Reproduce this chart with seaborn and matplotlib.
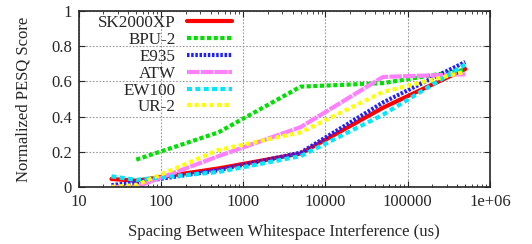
import numpy as np
import pandas as pd
import seaborn as sns
import matplotlib
matplotlib.use("Agg")
import matplotlib.pyplot as plt
from matplotlib.ticker import LogLocator, NullFormatter, FixedLocator

# spacing values (us)
spacing = [25, 50, 500, 5000, 50000, 500000]

# normalized PESQ scores
sk2000xp = [0.045, 0.035, 0.105, 0.19, 0.45, 0.67]
bpu2 = [None, 0.155, 0.31, 0.57, 0.59, 0.665]
e935 = [0.01, 0.025, 0.095, 0.195, 0.48, 0.71]
atw = [0.0, 0.0, 0.175, 0.34, 0.625, 0.64]
ew100 = [0.06, 0.04, 0.085, 0.175, 0.41, 0.695]
ur2 = [0.0, 0.01, 0.21, 0.31, 0.54, 0.655]

names = ["SK2000XP", "BPU-2", "E935", "ATW", "EW100", "UR-2"]
series = [sk2000xp, bpu2, e935, atw, ew100, ur2]
colors = ["#ff0000", "#00e000", "#2020ff", "#ff80ff", "#00e8ff", "#ffff00"]
dashes = [(None, None), (1, 0.6), (0.6, 0.4), (3, 0.3), (1.2, 0.8), (1, 0.8)]

rows = []
for n, vals in zip(names, series):
    for x, v in zip(spacing, vals):
        if v is not None:
            rows.append({"spacing": x, "score": v, "device": n})
df = pd.DataFrame(rows)

sns.set_style("ticks")
plt.rcParams["font.family"] = ["Liberation Serif", "DejaVu Serif"]

fig = plt.figure(figsize=(5.32, 2.44), dpi=100)
ax = fig.add_axes([0.148, 0.234, 0.773, 0.721])

for n, c, d in zip(names, colors, dashes):
    sub = df[df.device == n]
    sns.lineplot(data=sub, x="spacing", y="score", ax=ax, color=c,
                 linewidth=3, label=n)
    ln = ax.lines[-1]
    if d[0] is not None:
        ln.set_dashes(d)

ax.set_xscale("log")
ax.set_xlim(10, 1e6)
ax.set_ylim(0, 1)
ax.xaxis.set_major_locator(FixedLocator([10, 100, 1000, 10000, 100000, 1e6]))
ax.set_xticklabels(["10", "100", "1000", "10000", "100000", "1e+06"])
ax.xaxis.set_minor_locator(LogLocator(base=10, subs=np.arange(2, 10)))
ax.xaxis.set_minor_formatter(NullFormatter())
ax.set_yticks([0, 0.2, 0.4, 0.6, 0.8, 1])
ax.set_yticklabels(["0", "0.2", "0.4", "0.6", "0.8", "1"])
ax.tick_params(which="both", direction="in", top=True, right=True, labelsize=12)
ax.tick_params(which="major", length=4, pad=5)
ax.tick_params(which="minor", length=2)
ax.grid(True, which="major", color="#999999", linestyle=(0, (1.5, 1.5)), linewidth=0.8)
for s in ax.spines.values():
    s.set_linewidth(1.2)

ax.set_xlabel("Spacing Between Whitespace Interference (us)", fontsize=12, labelpad=10)
ax.set_ylabel("Normalized PESQ Score", fontsize=12, labelpad=14)

leg = ax.legend(loc="upper left", frameon=False, markerfirst=False, fontsize=12.3,
                handlelength=2.6, labelspacing=0.05, borderaxespad=0.0,
                handletextpad=0.7, bbox_to_anchor=(0.03, 1.015))
for t in leg.get_texts():
    t.set_ha("right")
leg._legend_box.align = "right"

fig.savefig("out.png", dpi=100)
